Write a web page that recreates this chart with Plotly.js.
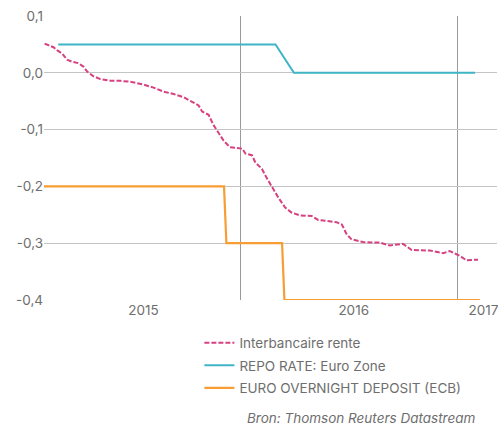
<!DOCTYPE html>
<html>
<head>
<meta charset="utf-8">
<script src="https://cdn.plot.ly/plotly-3.0.1.min.js"></script>
<style>html,body{margin:0;padding:0;background:#fff;}#chart{width:502px;height:425px;}</style>
</head>
<body>
<div id="chart"></div>
<script>
// Interbancaire rente
const interbankDates = ['2015-02-04','2015-02-14','2015-02-19','2015-02-25','2015-03-06','2015-03-14','2015-03-23','2015-04-02','2015-04-11','2015-04-17','2015-04-27','2015-05-09','2015-05-26','2015-06-12','2015-06-29','2015-07-21','2015-08-07','2015-08-24','2015-09-10','2015-09-27','2015-10-11','2015-10-22','2015-10-28','2015-11-08','2015-11-16','2015-11-25','2015-12-03','2015-12-14','2015-12-28','2016-01-04','2016-01-09','2016-01-20','2016-01-26','2016-02-06','2016-02-14','2016-02-23','2016-03-05','2016-03-16','2016-03-27','2016-04-10','2016-04-30','2016-05-11','2016-05-25','2016-06-11','2016-06-20','2016-06-28','2016-07-06','2016-07-26','2016-08-23','2016-09-09','2016-10-01','2016-10-16','2016-11-16','2016-12-08','2016-12-19','2017-01-05','2017-01-16','2017-02-05'];
const interbankValues = [0.0515,0.0468,0.045,0.0398,0.0336,0.023,0.0193,0.017,0.0105,0.002,-0.0058,-0.011,-0.014,-0.0142,-0.0158,-0.0207,-0.026,-0.0333,-0.0373,-0.0431,-0.0504,-0.0574,-0.068,-0.074,-0.0916,-0.106,-0.119,-0.131,-0.132,-0.1336,-0.142,-0.145,-0.158,-0.169,-0.185,-0.201,-0.220,-0.237,-0.246,-0.251,-0.252,-0.259,-0.261,-0.263,-0.267,-0.284,-0.293,-0.298,-0.299,-0.304,-0.301,-0.312,-0.313,-0.3175,-0.314,-0.322,-0.330,-0.329];

// REPO RATE: Euro Zone (month-end values)
const repoDates = ['2015-02-27','2016-02-29','2016-03-31','2017-01-31'];
const repoValues = [0.05,0.05,0.0,0.0];

// EURO OVERNIGHT DEPOSIT (ECB)
const depositDates = ['2015-02-03','2015-12-04','2015-12-08','2016-03-11','2016-03-15','2017-02-08'];
const depositValues = [-0.2,-0.2,-0.3,-0.3,-0.4,-0.4];

const seriesNames = ['Interbancaire rente','REPO RATE: Euro Zone','EURO OVERNIGHT DEPOSIT (ECB)'];

const yTickVals = [0.1,0.0,-0.1,-0.2,-0.3,-0.4];
const yTickText = ['0,1','0,0','-0,1','-0,2','-0,3','-0,4'];

const xLabelDates = ['2015-07-21','2016-07-10','2017-02-14'];
const xLabelText = ['2015','2016','2017'];
const yearLines = ['2016-01-01','2017-01-01'];

const FONT = 'Inter, "Liberation Sans", Arial, sans-serif';
const TXT = '#6e6e6e';

const traces = [
  {x: interbankDates, y: interbankValues, name: seriesNames[0], type: 'scatter', mode: 'lines',
   line: {color: '#d6417f', width: 2, dash: '5px,2px'}, legendgroup: 'a'},
  {x: repoDates, y: repoValues, name: seriesNames[1], type: 'scatter', mode: 'lines',
   line: {color: '#3db5c7', width: 2}, legendgroup: 'b'},
  {x: depositDates, y: depositValues, name: seriesNames[2], type: 'scatter', mode: 'lines',
   line: {color: '#f79d33', width: 2.2}, legendgroup: 'c'}
];

const layout = {
  width: 502, height: 425,
  margin: {l: 44, r: 5, t: 16, b: 125},
  paper_bgcolor: '#fff', plot_bgcolor: '#fff',
  font: {family: FONT, color: TXT, size: 13},
  showlegend: true,
  legend: {x: 0.343, xanchor: 'left', y: -0.097, yanchor: 'top', traceorder: 'grouped',
           tracegroupgap: 2, font: {size: 13.5, color: TXT, family: FONT}, bgcolor: 'rgba(0,0,0,0)'},
  xaxis: {type: 'date', range: ['2015-02-03','2017-03-09'], showgrid: false, zeroline: false,
          showline: false, ticks: '', tickmode: 'array', tickvals: xLabelDates, ticktext: xLabelText,
          tickfont: {size: 13.5, color: TXT},
          minor: {tickmode: 'array', tickvals: yearLines, showgrid: true, gridcolor: '#9a9a9a', gridwidth: 1, ticks: ''}},
  yaxis: {range: [-0.4, 0.1], tickmode: 'array', tickvals: yTickVals, ticktext: yTickText,
          showgrid: true, gridcolor: '#c4c4c4', gridwidth: 1.2, zeroline: false, showline: false,
          ticks: '', tickfont: {size: 13.5, color: TXT}},
  annotations: [{text: '<i>Bron: Thomson Reuters Datastream</i>', xref: 'paper', yref: 'paper',
    x: (478 - 44) / 453, xanchor: 'right', y: (300 - 418) / 284, yanchor: 'middle', showarrow: false,
    font: {size: 13.5, color: TXT, family: FONT}}]
};

Plotly.newPlot('chart', traces, layout, {displayModeBar: false, staticPlot: true});
</script>
</body>
</html>
